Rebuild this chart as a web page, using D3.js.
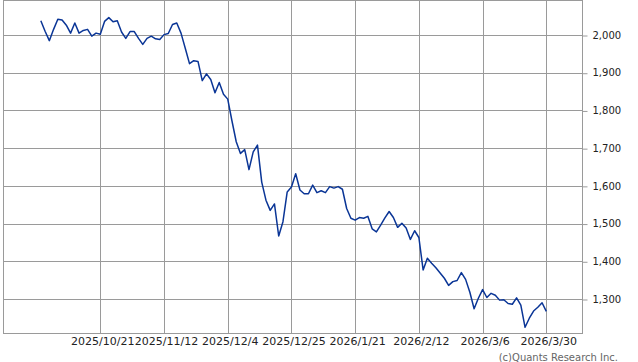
<!DOCTYPE html>
<html>
<head>
<meta charset="utf-8">
<script src="https://cdn.jsdelivr.net/npm/d3@7"></script>
<style>
  body { margin: 0; background: #fff; }
  text { font-family: "DejaVu Sans", sans-serif; }
</style>
</head>
<body>
<script>
// Chart size
const width = 638;
const height = 362;
const plot = {left: 3.5, right: 582.5, top: 0.5, bottom: 333.5};

// Daily closes (trading-day index 0..119)
const prices = [
  2038, 2010, 1985, 2015, 2042, 2040, 2026, 2005, 2032, 2005,
  2012, 2015, 1997, 2005, 2002, 2036, 2046, 2035, 2038, 2008,
  1991, 2009, 2009, 1991, 1975, 1991, 1997, 1990, 1988, 2001,
  2004, 2028, 2032, 2005, 1965, 1924, 1932, 1930, 1879, 1897,
  1882, 1847, 1874, 1843, 1830, 1772, 1717, 1686, 1696, 1643,
  1690, 1708, 1610, 1562, 1535, 1552, 1467, 1505, 1584, 1597,
  1632, 1589, 1579, 1579, 1602, 1582, 1587, 1582, 1598, 1594,
  1598, 1591, 1540, 1514, 1509, 1516, 1514, 1519, 1486, 1478,
  1496, 1515, 1532, 1516, 1490, 1501, 1488, 1458, 1481, 1463,
  1377, 1408, 1395, 1383, 1369, 1355, 1336, 1346, 1349, 1370,
  1352, 1318, 1274, 1302, 1325, 1304, 1315, 1310, 1297, 1298,
  1288, 1286, 1303, 1284, 1225, 1249, 1268, 1278, 1290, 1267
];

// X tick labels and the trading-day index they sit on
const tickIndex = [14, 29, 44, 59, 74, 89, 104, 119];
const tickLabels = ['2025/10/21', '2025/11/12', '2025/12/4', '2025/12/25',
                    '2026/1/21', '2026/2/12', '2026/3/6', '2026/3/30'];

// Y ticks
const yTicks = [1300, 1400, 1500, 1600, 1700, 1800, 1900, 2000];

const svg = d3.select('body')
  .append('svg')
  .attr('width', width)
  .attr('height', height);

// Scales
const xScale = d3.scaleLinear()
  .domain([-8.79, 127.52])
  .range([plot.left, plot.right]);

const yScale = d3.scaleLinear()
  .domain([1208.5, 2091.5])
  .range([plot.bottom, plot.top]);

// Grid
const grid = svg.append('g').attr('stroke', '#9a9a9a').attr('stroke-width', 1);

grid.selectAll('.vgrid')
  .data(tickIndex)
  .join('line')
  .attr('x1', d => Math.round(xScale(d)) + 0.5)
  .attr('x2', d => Math.round(xScale(d)) + 0.5)
  .attr('y1', plot.top)
  .attr('y2', plot.bottom);

grid.selectAll('.hgrid')
  .data(yTicks)
  .join('line')
  .attr('x1', plot.left)
  .attr('x2', plot.right)
  .attr('y1', d => Math.round(yScale(d)) + 0.5)
  .attr('y2', d => Math.round(yScale(d)) + 0.5);

// Plot frame
svg.append('rect')
  .attr('x', plot.left)
  .attr('y', plot.top)
  .attr('width', plot.right - plot.left)
  .attr('height', plot.bottom - plot.top)
  .attr('fill', 'none')
  .attr('stroke', '#9a9a9a');

// Y axis on the right
const yAxis = d3.axisRight(yScale)
  .tickValues(yTicks)
  .tickSize(5)
  .tickPadding(5)
  .tickFormat(d3.format(','));

svg.append('g')
  .attr('transform', 'translate(' + plot.right + ',0)')
  .call(yAxis)
  .call(g => g.select('.domain').remove())
  .call(g => g.selectAll('line').attr('stroke', '#9a9a9a').attr('transform', 'translate(0,0.5)'))
  .call(g => g.selectAll('text')
    .attr('font-family', '"DejaVu Sans", sans-serif')
    .attr('font-size', 10)
    .attr('fill', '#222'));

// X axis at the bottom
const xAxis = d3.axisBottom(xScale)
  .tickValues(tickIndex)
  .tickSize(0)
  .tickPadding(4)
  .tickFormat((d, i) => tickLabels[i]);

svg.append('g')
  .attr('transform', 'translate(2,' + plot.bottom + ')')
  .call(xAxis)
  .call(g => g.select('.domain').remove())
  .call(g => g.selectAll('text')
    .attr('font-family', '"DejaVu Sans", sans-serif')
    .attr('font-size', 11)
    .attr('fill', '#222'));

// Price line
const line = d3.line()
  .x((d, i) => xScale(i))
  .y(d => yScale(d));

svg.append('path')
  .datum(prices)
  .attr('d', line)
  .attr('fill', 'none')
  .attr('stroke', '#0a3596')
  .attr('stroke-width', 1.5)
  .attr('stroke-linejoin', 'round');

// Credit
svg.append('text')
  .attr('x', 618)
  .attr('y', 361)
  .attr('text-anchor', 'end')
  .attr('font-size', 10)
  .attr('fill', '#666')
  .text('(c)Quants Research Inc.');
</script>
</body>
</html>
